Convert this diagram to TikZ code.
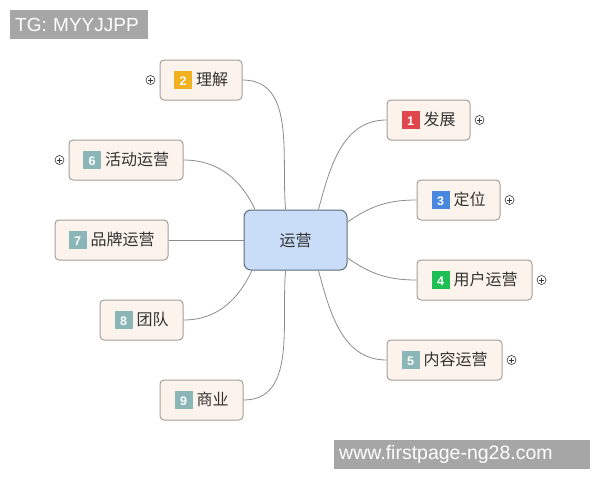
\documentclass[tikz,border=0pt]{standalone}
\usepackage{fontspec}
\setmainfont{Noto Sans CJK SC}
\newfontfamily\latinsans{Liberation Sans}
\usepackage{xcolor}
\usetikzlibrary{calc}

\definecolor{topicfill}{HTML}{FCF4EC}
\definecolor{topicline}{HTML}{A59E97}
\definecolor{hubfill}{HTML}{C9DCF8}
\definecolor{hubline}{HTML}{5E6B7C}
\definecolor{linegray}{HTML}{8C8C8C}
\definecolor{textgray}{HTML}{333333}
\definecolor{wmgray}{HTML}{A6A6A6}
\definecolor{badgered}{HTML}{E0474C}
\definecolor{badgeorange}{HTML}{F2B11F}
\definecolor{badgeblue}{HTML}{4A88E0}
\definecolor{badgegreen}{HTML}{1FBF55}
\definecolor{badgeteal}{HTML}{8AB6B7}

\newcommand{\badge}[2]{{\setlength{\fboxsep}{0pt}\colorbox{#1}{\makebox[18pt]{\rule[-4pt]{0pt}{18pt}\latinsans\bfseries\fontsize{12.5}{12.5}\selectfont\color{white}#2}}}}

\begin{document}
\begin{tikzpicture}[x=1pt,y=-1pt]
        \tikzstyle{every node}=[inner sep=0pt]
        \tikzstyle{topic}=[draw=topicline,fill=topicfill,rounded corners=4pt,line width=1pt,minimum height=40pt,font=\fontsize{16}{16}\selectfont,text=textgray]
        \tikzstyle{hub}=[draw=hubline,fill=hubfill,rounded corners=7pt,line width=1pt,minimum width=103pt,minimum height=60pt,font=\fontsize{16}{16}\selectfont,text=textgray]
        \tikzstyle{plus}=[draw=textgray,fill=white,circle,line width=0.6pt,minimum size=9pt,
            path picture={\draw[line width=0.6pt] ([xshift=-2.5pt]path picture bounding box.center) -- ([xshift=2.5pt]path picture bounding box.center)
                ([yshift=-2.5pt]path picture bounding box.center) -- ([yshift=2.5pt]path picture bounding box.center);}]
        \tikzstyle{link}=[draw=linegray,line width=0.8pt]
        \tikzstyle{wmark}=[fill=wmgray,text=white,anchor=north west,inner xsep=5pt,minimum height=29pt,align=left]

        \useasboundingbox (0,0) rectangle (600,480);

        \node[wmark,text width=128pt,font=\latinsans\fontsize{19}{19}\selectfont] (tg) at (10,10) {TG: MYYJJPP};
        \node[wmark,text width=246pt,font=\latinsans\fontsize{19.5}{19.5}\selectfont] (www) at (334,440) {www.firstpage-ng28.com};

        \node[hub] (0) at (295.5,240) {运营};

        \node[topic,minimum width=83pt] (1) at (428.5,120) {\badge{badgered}{1}\hspace{4pt}发展};
        \node[topic,minimum width=82pt] (2) at (201,80) {\badge{badgeorange}{2}\hspace{4pt}理解};
        \node[topic,minimum width=83pt] (3) at (458.5,200) {\badge{badgeblue}{3}\hspace{4pt}定位};
        \node[topic,minimum width=115pt] (4) at (474.5,280) {\badge{badgegreen}{4}\hspace{4pt}用户运营};
        \node[topic,minimum width=115pt] (5) at (444.5,360) {\badge{badgeteal}{5}\hspace{4pt}内容运营};
        \node[topic,minimum width=114pt] (6) at (126,160) {\badge{badgeteal}{6}\hspace{4pt}活动运营};
        \node[topic,minimum width=113pt] (7) at (111.5,240) {\badge{badgeteal}{7}\hspace{4pt}品牌运营};
        \node[topic,minimum width=83pt] (8) at (141.5,320) {\badge{badgeteal}{8}\hspace{4pt}团队};
        \node[topic,minimum width=83pt] (9) at (201.5,400) {\badge{badgeteal}{9}\hspace{4pt}商业};

        \node[plus] (1p) at ($(1.east)+(9,0)$) {};
        \node[plus] (2p) at ($(2.west)+(-9,0)$) {};
        \node[plus] (3p) at ($(3.east)+(9,0)$) {};
        \node[plus] (4p) at ($(4.east)+(9,0)$) {};
        \node[plus] (5p) at ($(5.east)+(9,0)$) {};
        \node[plus] (6p) at ($(6.west)+(-9,0)$) {};

        \draw[link] (0.53) to[out=75,in=180] (1.west);
        \draw[link] (0.19) to[out=35,in=180] (3.west);
        \draw[link] (0.-19) to[out=-35,in=180] (4.west);
        \draw[link] (0.-53) to[out=-75,in=180] (5.west);
        \draw[link] (0.108) to[out=95,in=0] (2.east);
        \draw[link] (0.143) to[out=115,in=0] (6.east);
        \draw[link] (0.west) -- (7.east);
        \draw[link] (0.-145) to[out=-115,in=0] (8.east);
        \draw[link] (0.-108) to[out=-95,in=0] (9.east);
    \end{tikzpicture}
\end{document}
